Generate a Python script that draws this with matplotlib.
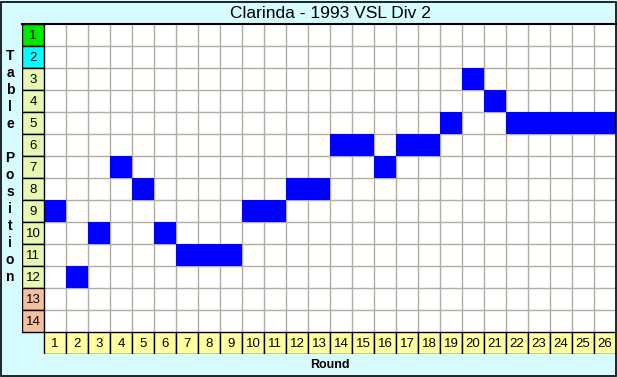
import numpy as np
import matplotlib
matplotlib.use('Agg')
from matplotlib import pyplot as plt
from matplotlib.patches import Rectangle

title = 'Clarinda - 1993 VSL Div 2'
rounds = list(range(1, 27))
positions = [9, 12, 10, 7, 8, 10, 11, 11, 11, 9, 9, 8, 8,
             6, 6, 7, 6, 6, 5, 3, 4, 5, 5, 5, 5, 5]
table_rows = list(range(1, 15))
row_colors = (['#00e800', '#00ffff'] + ['#e6f8b4'] * 10
              + ['#f4c0a0'] * 2)

W, H = 617, 377
fig = plt.figure(figsize=(W / 100, H / 100), dpi=100)
fig.patch.set_facecolor('#d6fcff')

# axes covers position column (x -1..0), grid and round row (y 14..15)
left, top, right, bottom = 22, 24, 616, 354
ax = fig.add_axes([left / W, (H - bottom) / H, (right - left) / W,
                   (bottom - top) / H])
n_rounds = len(rounds)
n_rows = len(table_rows)
ax.set_xlim(-1, n_rounds)
ax.set_ylim(n_rows + 1, 0)
ax.set_facecolor('none')
for s in ax.spines.values():
    s.set_visible(False)
ax.set_xticks([])
ax.set_yticks([])

ax.add_patch(Rectangle((0, 0), n_rounds, n_rows, facecolor='white',
                       edgecolor='none', zorder=0))
ax.vlines(np.arange(1, n_rounds), 0, n_rows, colors='#b4aca0', lw=1, zorder=1)
ax.hlines(np.arange(1, n_rows), 0, n_rounds, colors='#b4aca0', lw=1, zorder=1)

ax.bar(np.array(rounds) - 1, 1, bottom=np.array(positions) - 1, width=1,
       align='edge', color='#0000ff', zorder=2)

ax.bar([-1] * n_rows, 1, bottom=np.array(table_rows) - 1, width=1,
       align='edge', color=row_colors, edgecolor='black', lw=1, zorder=3)
for r in table_rows:
    ax.text(-0.5, r - 0.45, str(r), ha='center', va='center',
            fontsize=9.5, family='Liberation Sans', zorder=4)

ax.bar(np.array(rounds) - 1, 1, bottom=n_rows, width=1, align='edge',
       color='#ffffa0', edgecolor='black', lw=1, zorder=3)
for r in rounds:
    ax.text(r - 0.5, n_rows + 0.55, str(r), ha='center', va='center',
            fontsize=9.5, family='Liberation Sans', zorder=4)

ax.plot([-1, n_rounds], [0, 0], color='black', lw=1.5, zorder=5,
        clip_on=False)

fig.text(330 / W, 1 - 13 / H, title, ha='center', va='center',
         fontsize=12.5, family='Liberation Sans')
fig.text(330 / W, 1 - 365 / H, 'Round', ha='center', va='center',
         fontsize=9, fontweight='bold', family='Liberation Sans')

for i, ch in enumerate('Table Position'):
    if ch != ' ':
        fig.text(10 / W, 1 - (56 + 17 * i) / H, ch, ha='center',
                 va='center', fontsize=10, fontweight='bold',
                 family='Liberation Sans')

fig.add_artist(Rectangle((0.5 / W, 1.5 / H), (W - 1.5) / W, (H - 3) / H,
                         transform=fig.transFigure, fill=False,
                         edgecolor='black', lw=1.2))

fig.savefig('out.png', dpi=100)
